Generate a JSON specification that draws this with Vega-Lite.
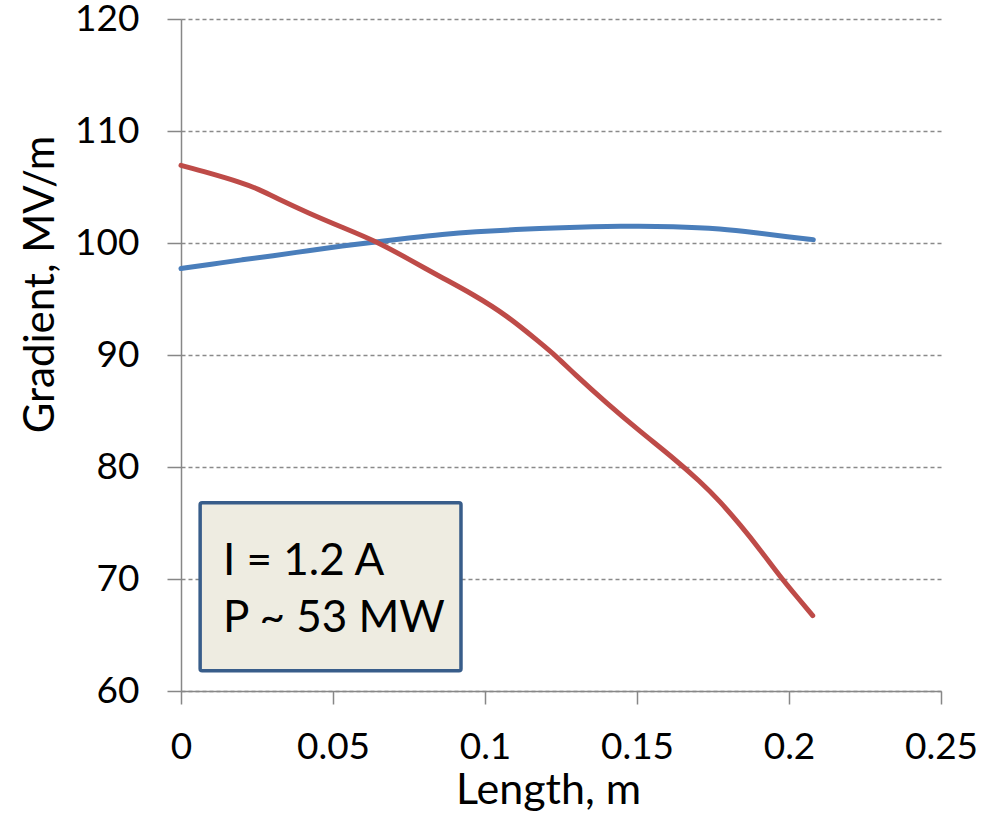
{
  "$schema": "https://vega.github.io/schema/vega-lite/v6.json",
  "width": 760,
  "height": 672,
  "autosize": {"type": "none"},
  "padding": {"left": 181, "top": 19, "right": 45, "bottom": 122},
  "background": "white",
  "config": {
    "view": {"stroke": null},
    "font": "Lato",
    "axis": {
      "labelFont": "Lato",
      "titleFont": "Lato",
      "labelColor": "#000000",
      "titleColor": "#000000",
      "titleFontWeight": "normal",
      "domainColor": "#878787",
      "domainWidth": 1.5,
      "tickColor": "#878787",
      "tickWidth": 1.5
    }
  },
  "datasets": {
    "curves": [
      {"series": "Series 1", "length": 0.0, "gradient": 97.72},
      {"series": "Series 1", "length": 0.01, "gradient": 98.1},
      {"series": "Series 1", "length": 0.02, "gradient": 98.5},
      {"series": "Series 1", "length": 0.03, "gradient": 98.85},
      {"series": "Series 1", "length": 0.042, "gradient": 99.32},
      {"series": "Series 1", "length": 0.053, "gradient": 99.74},
      {"series": "Series 1", "length": 0.064, "gradient": 100.1},
      {"series": "Series 1", "length": 0.075, "gradient": 100.45},
      {"series": "Series 1", "length": 0.086, "gradient": 100.78},
      {"series": "Series 1", "length": 0.0967, "gradient": 101.01},
      {"series": "Series 1", "length": 0.11, "gradient": 101.2},
      {"series": "Series 1", "length": 0.124, "gradient": 101.37},
      {"series": "Series 1", "length": 0.1455, "gradient": 101.52},
      {"series": "Series 1", "length": 0.162, "gradient": 101.49},
      {"series": "Series 1", "length": 0.178, "gradient": 101.28},
      {"series": "Series 1", "length": 0.189, "gradient": 100.92},
      {"series": "Series 1", "length": 0.2, "gradient": 100.54},
      {"series": "Series 1", "length": 0.208, "gradient": 100.3},
      {"series": "Series 2", "length": 0.0, "gradient": 106.93},
      {"series": "Series 2", "length": 0.009, "gradient": 106.27},
      {"series": "Series 2", "length": 0.02, "gradient": 105.38},
      {"series": "Series 2", "length": 0.0254, "gradient": 104.82},
      {"series": "Series 2", "length": 0.031, "gradient": 104.05},
      {"series": "Series 2", "length": 0.042, "gradient": 102.66},
      {"series": "Series 2", "length": 0.053, "gradient": 101.4},
      {"series": "Series 2", "length": 0.064, "gradient": 100.18},
      {"series": "Series 2", "length": 0.075, "gradient": 98.55},
      {"series": "Series 2", "length": 0.0852, "gradient": 97.0},
      {"series": "Series 2", "length": 0.0962, "gradient": 95.4},
      {"series": "Series 2", "length": 0.1071, "gradient": 93.55},
      {"series": "Series 2", "length": 0.1181, "gradient": 91.1},
      {"series": "Series 2", "length": 0.1236, "gradient": 89.85},
      {"series": "Series 2", "length": 0.1291, "gradient": 88.39},
      {"series": "Series 2", "length": 0.14, "gradient": 85.71},
      {"series": "Series 2", "length": 0.151, "gradient": 83.18},
      {"series": "Series 2", "length": 0.162, "gradient": 80.8},
      {"series": "Series 2", "length": 0.1707, "gradient": 78.72},
      {"series": "Series 2", "length": 0.1773, "gradient": 76.93},
      {"series": "Series 2", "length": 0.1839, "gradient": 74.85},
      {"series": "Series 2", "length": 0.1905, "gradient": 72.62},
      {"series": "Series 2", "length": 0.197, "gradient": 70.24},
      {"series": "Series 2", "length": 0.2025, "gradient": 68.45},
      {"series": "Series 2", "length": 0.2078, "gradient": 66.73}
    ],
    "note": [
      {"label": "I = 1.2 A\nP ~ 53 MW"}
    ]
  },
  "layer": [
    {
      "data": {"name": "curves"},
      "mark": {"type": "line", "strokeWidth": 5, "interpolate": "basis", "strokeCap": "round", "strokeJoin": "round"},
      "encoding": {
        "x": {
          "field": "length", "type": "quantitative",
          "scale": {"domain": [0, 0.25], "nice": false, "zero": false},
          "axis": {
            "values": [0, 0.05, 0.1, 0.15, 0.2, 0.25],
            "format": "~g",
            "title": "Length, m",
            "grid": false,
            "tickSize": 13,
            "labelFontSize": 37,
            "labelBaseline": "alphabetic",
            "labelPadding": 54,
            "labelFlush": false,
            "labelOverlap": false,
            "titleFontSize": 43,
            "titleBaseline": "alphabetic",
            "titleX": 367,
            "titleY": 112,
            "titleAnchor": "middle",
            "titleAlign": "center"
          }
        },
        "y": {
          "field": "gradient", "type": "quantitative",
          "scale": {"domain": [60, 120], "nice": false, "zero": false},
          "axis": {
            "values": [60, 70, 80, 90, 100, 110, 120],
            "title": "Gradient, MV/m",
            "grid": true,
            "gridColor": "#8a8a8a",
            "gridWidth": 1.3,
            "gridDash": [4, 3],
            "tickSize": 14,
            "labelFontSize": 37,
            "labelPadding": 28,
            "labelFlush": false,
            "labelOverlap": false,
            "titleFontSize": 42,
            "titleAngle": -90,
            "titleBaseline": "alphabetic",
            "titleAlign": "center",
            "titleX": -128,
            "titleY": 265
          }
        },
        "color": {
          "field": "series", "type": "nominal",
          "scale": {"domain": ["Series 1", "Series 2"], "range": ["#4A7EBB", "#BE4B48"]},
          "legend": null
        },
        "detail": {"field": "series"}
      }
    },
    {
      "data": {"name": "note"},
      "mark": {"type": "rect", "fill": "#EEECE1", "stroke": "#385D8A", "strokeWidth": 3.5, "cornerRadius": 2},
      "encoding": {
        "x": {"datum": 0.0063, "type": "quantitative"},
        "x2": {"datum": 0.0921},
        "y": {"datum": 76.8, "type": "quantitative"},
        "y2": {"datum": 61.8}
      }
    },
    {
      "data": {"name": "note"},
      "mark": {"type": "text", "align": "left", "baseline": "alphabetic", "font": "Lato", "fontSize": 44, "lineHeight": 57, "lineBreak": "\n", "color": "#000000"},
      "encoding": {
        "x": {"datum": 0.0138, "type": "quantitative"},
        "y": {"datum": 70.36, "type": "quantitative"},
        "text": {"field": "label"}
      }
    }
  ]
}
